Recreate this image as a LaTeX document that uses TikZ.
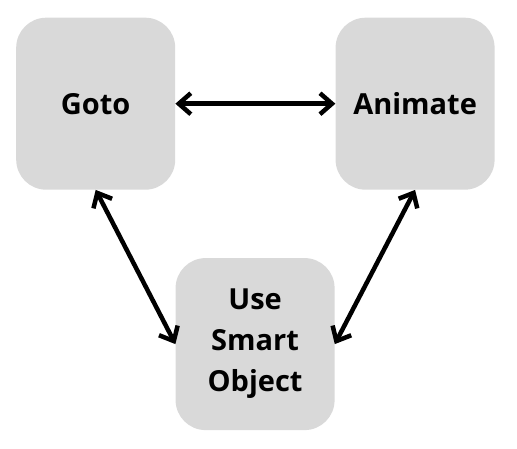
\documentclass[tikz,border=0pt]{standalone}
\usepackage{fontspec}
\setmainfont{Open Sans}
\usetikzlibrary{arrows.meta,positioning}
\definecolor{boxgray}{RGB}{217,217,217}

\begin{document}
\begin{tikzpicture}[x=1pt,y=1pt,
	every node/.style={font=\fontsize{29}{41}\selectfont\bfseries},
	stagebox/.style={rectangle, rounded corners=30pt, fill=boxgray, minimum width=159pt, minimum height=172pt, text width=150pt, align=center, inner sep=0pt},
	link/.style={{Straight Barb[length=12pt,width=21pt]}-{Straight Barb[length=12pt,width=21pt]}, line width=4.5pt}]
	\node[stagebox] (goto) {Goto};
	\node[stagebox] (animate) [right=160pt of goto] {Animate};
	\node[stagebox, anchor=north west] (smart) at ([yshift=-68pt]goto.south east) {Use\\Smart\\Object};
	\useasboundingbox ([xshift=-16pt,yshift=17.5pt]goto.north west) rectangle ++(517,-449);
	\draw[link] (goto) -- (animate);
	\draw[link] (goto.south) -- (smart.west);
	\draw[link] (animate.south) -- (smart.east);
\end{tikzpicture}
\end{document}
